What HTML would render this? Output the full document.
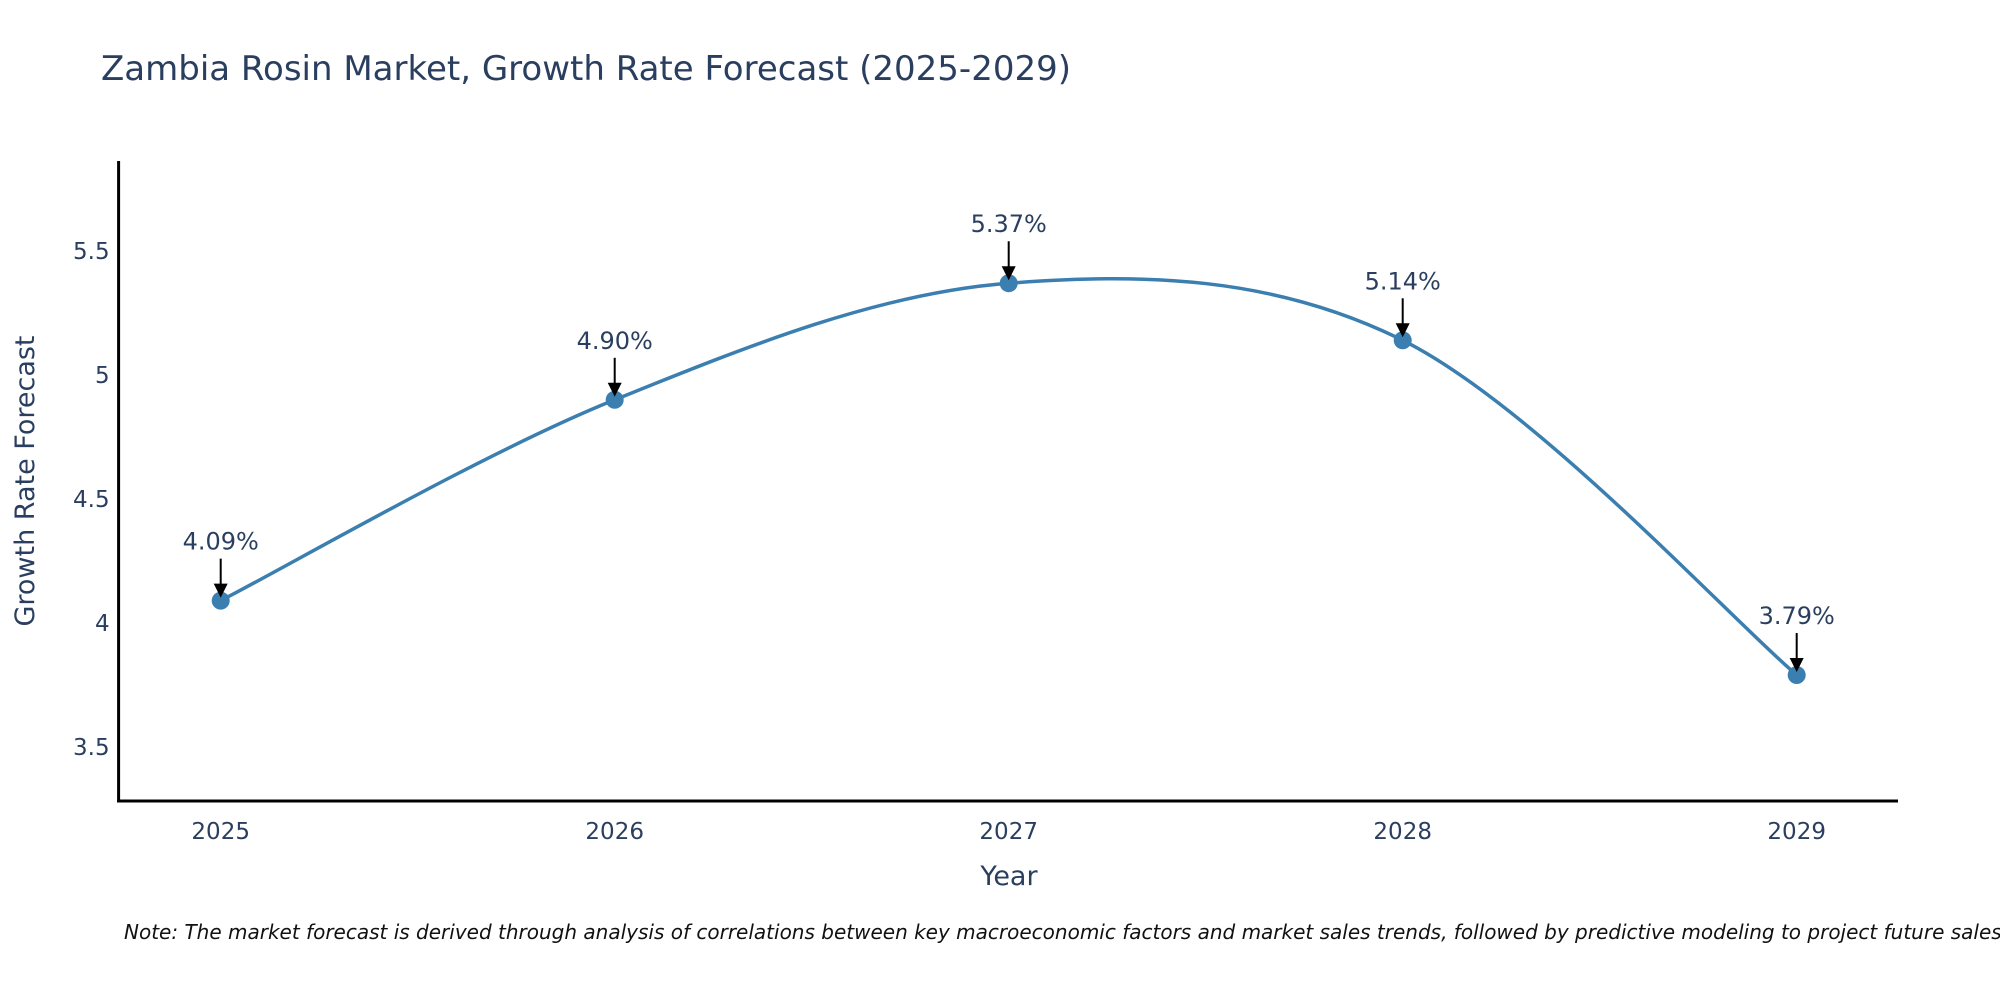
<!DOCTYPE html>
<html><head><meta charset="utf-8"><style>
body{margin:0;background:#fff;}
svg text{font-family:"DejaVu Sans","Liberation Sans",sans-serif;fill:#2a3f5f;}
</style></head><body>
<svg id="chart" width="2000" height="1000" viewBox="0 0 2000 1000" xmlns="http://www.w3.org/2000/svg">
<text x="101" y="80" font-size="34">Zambia Rosin Market, Growth Rate Forecast (2025-2029)</text>
<g id="plot"></g>
<text transform="translate(34,481) rotate(-90)" text-anchor="middle" font-size="27">Growth Rate Forecast</text>
<text x="1009" y="885" text-anchor="middle" font-size="27">Year</text>
<text x="124" y="939" font-size="20" font-style="italic" style="fill:#111">Note: The market forecast is derived through analysis of correlations between key macroeconomic factors and market sales trends, followed by predictive modeling to project future sales.</text>
</svg>
<script>
const years = [2025, 2026, 2027, 2028, 2029];
const growth = [4.09, 4.90, 5.37, 5.14, 3.79];
const labels = ["4.09%", "4.90%", "5.37%", "5.14%", "3.79%"];
const yTicks = [3.5, 4, 4.5, 5, 5.5];
const yTickLabels = ["3.5", "4", "4.5", "5", "5.5"];

const NS = "http://www.w3.org/2000/svg";
const g = document.getElementById('plot');
const L = 118.6, R = 1898, T = 161, B = 801;
const yMin = 3.282, yMax = 5.863;
const xFirst = 220.7, xStep = 394;
function xs(v){ return xFirst + (v - years[0]) * xStep; }
function ys(v){ return B - (v - yMin) / (yMax - yMin) * (B - T); }
function mk(tag, attrs){ const e = document.createElementNS(NS, tag); for (const k in attrs) e.setAttribute(k, attrs[k]); g.appendChild(e); return e; }

let e = mk('line', {x1:L, y1:T, x2:L, y2:B+1.5, stroke:'#000', 'stroke-width':3});


e = mk('line', {x1:L-1.5, y1:B, x2:R, y2:B, stroke:'#000', 'stroke-width':3});



yTicks.forEach((t, i) => {
  const el = mk('text', {x:L-9, y:ys(t)+8, 'text-anchor':'end', 'font-size':23});
  el.textContent = yTickLabels[i];
  
  
});
years.forEach(y => {
  const el = mk('text', {x:xs(y), y:B+38, 'text-anchor':'middle', 'font-size':23});
  el.textContent = String(y);
  
  
});

const pts = years.map((y, i) => [xs(y), ys(growth[i])]);
const s = 1/3;
let d = 'M' + pts[0][0] + ',' + pts[0][1];
for (let i = 0; i < pts.length - 1; i++) {
  const p0 = pts[Math.max(i-1,0)], p1 = pts[i], p2 = pts[i+1], p3 = pts[Math.min(i+2, pts.length-1)];
  const c1 = [p1[0] + (p2[0]-p0[0])*s/2, p1[1] + (p2[1]-p0[1])*s/2];
  const c2 = [p2[0] - (p3[0]-p1[0])*s/2, p2[1] - (p3[1]-p1[1])*s/2];
  d += ' C' + c1.join(',') + ' ' + c2.join(',') + ' ' + p2.join(',');
}
e = mk('path', {d:d, fill:'none', stroke:'#3b7fb0', 'stroke-width':3.5});



pts.forEach((p, i) => {
  const c = mk('circle', {cx:p[0], cy:p[1], r:9, fill:'#3b7fb0'});
  
  
  const ln = mk('line', {x1:p[0], y1:p[1]-42, x2:p[0], y2:p[1]-14, stroke:'#000', 'stroke-width':2});
  
  
  const hd = mk('polygon', {points:(p[0]-7)+','+(p[1]-17)+' '+(p[0]+7)+','+(p[1]-17)+' '+p[0]+','+(p[1]-3), fill:'#000'});
  
  
  const tx = mk('text', {x:p[0], y:p[1]-51, 'text-anchor':'middle', 'font-size':24});
  tx.textContent = labels[i];
  
  
});
</script>
</body></html>
